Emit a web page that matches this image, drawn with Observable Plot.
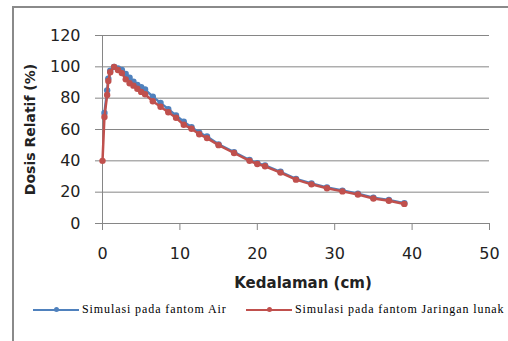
<!DOCTYPE html>
<html>
<head>
<meta charset="utf-8">
<script src="https://cdn.jsdelivr.net/npm/d3@7"></script>
<script src="https://cdn.jsdelivr.net/npm/@observablehq/plot@0.6"></script>
<style>
  html, body { margin: 0; padding: 0; background: #fff; }
  #wrap { position: relative; width: 508px; height: 341px; overflow: hidden; }
  #frame { position: absolute; left: 12px; top: 6px; width: 600px; height: 400px;
           border-left: 2px solid #8a8a8a; border-top: 2px solid #8a8a8a; pointer-events: none; }
  #chart { position: absolute; left: 0; top: 0; }
  .leg { position: absolute; top: 302px; height: 16px; font-family: "Liberation Serif", serif;
         font-size: 12px; letter-spacing: 0.9px; color: #000; white-space: nowrap; }
  .leg .sw { position: absolute; top: 7px; height: 2px; width: 46px; }
  .leg .mk { position: absolute; top: 5px; width: 5px; height: 5px; border-radius: 50%; left: 21px; }
  .leg .tx { position: absolute; left: 49px; top: 0px; }
</style>
</head>
<body>
<div id="wrap">
  <div id="chart"></div>
  <div id="frame"></div>
  <div class="leg" style="left:33px;">
    <div class="sw" style="background:#4F81BD"></div>
    <div class="mk" style="background:#4F81BD"></div>
    <div class="tx">Simulasi pada fantom Air</div>
  </div>
  <div class="leg" style="left:246px;">
    <div class="sw" style="background:#C0504D"></div>
    <div class="mk" style="background:#C0504D"></div>
    <div class="tx">Simulasi pada fantom Jaringan lunak</div>
  </div>
</div>
<script>
const depthAir = [0.25, 0.6, 0.75, 1, 1.5, 2, 2.5, 3, 3.5, 4, 4.5, 5, 5.5, 6.5, 7.5, 8.5, 9.5, 10.5, 11.5, 12.5, 13.5, 15, 17, 19, 20, 21, 23, 25, 27, 29, 31, 33, 35, 37, 39];
const doseAir = [70.5, 85, 92.5, 97.5, 100, 99, 98, 95.5, 93, 90.5, 88.5, 87, 85.5, 81, 77, 73, 69, 65, 61.5, 58, 55.5, 50.5, 45.5, 40.5, 38.5, 37, 33, 28.5, 25.5, 23, 21, 19, 16.5, 15, 13];
const depthJaringan = [0, 0.25, 0.6, 0.75, 1, 1.5, 2, 2.5, 3, 3.5, 4, 4.5, 5, 5.5, 6.5, 7.5, 8.5, 9.5, 10.5, 11.5, 12.5, 13.5, 15, 17, 19, 20, 21, 23, 25, 27, 29, 31, 33, 35, 37, 39];
const doseJaringan = [40, 68, 82, 91, 96.5, 100, 98, 96, 92, 89.5, 88, 86, 84, 82.5, 78, 74.5, 71, 67.5, 63, 60.5, 57, 54.5, 50, 45, 40, 38, 36.5, 32.5, 28, 25, 22.5, 20.5, 18.5, 16, 14.5, 12.5];
const xTicks = [0, 10, 20, 30, 40, 50];
const yTicks = [0, 20, 40, 60, 80, 100, 120];
const xTitle = "Kedalaman (cm)";
const yTitle = "Dosis Relatif (%)";
const seriesNames = ["Simulasi pada fantom Air", "Simulasi pada fantom Jaringan lunak"];
const colors = ["#4F81BD", "#C0504D"];

const air = depthAir.map((d, i) => ({depth: d, dose: doseAir[i]}));
const jar = depthJaringan.map((d, i) => ({depth: d, dose: doseJaringan[i]}));

const gray = "#868686";
const chart = Plot.plot({
  width: 508,
  height: 341,
  marginLeft: 102,
  marginRight: 19,
  marginTop: 35,
  marginBottom: 118,
  style: {fontFamily: "DejaVu Sans", background: "transparent", overflow: "visible"},
  x: {domain: [0, 50]},
  y: {domain: [0, 120]},
  marks: [
    Plot.gridY(yTicks, {stroke: gray, strokeOpacity: 1, strokeWidth: 1}),
    Plot.axisY(yTicks, {tickSize: 7, tickPadding: 15, stroke: gray, fontSize: 16, fill: "#222", label: null}),
    Plot.axisX(xTicks, {tickSize: 7, tickPadding: 17, stroke: gray, fontSize: 16, fill: "#222", label: null}),
    Plot.ruleX([0], {stroke: gray, strokeWidth: 1}),
    Plot.ruleY([0], {stroke: gray, strokeWidth: 1}),
    Plot.line(air, {x: "depth", y: "dose", stroke: colors[0], strokeWidth: 2.5}),
    Plot.dot(air, {x: "depth", y: "dose", fill: colors[0], r: 3.2}),
    Plot.line(jar, {x: "depth", y: "dose", stroke: colors[1], strokeWidth: 2.5}),
    Plot.dot(jar, {x: "depth", y: "dose", fill: colors[1], r: 3.2}),
    Plot.text([yTitle], {frameAnchor: "left", dx: -72, rotate: -90, textAnchor: "middle", lineAnchor: "middle", fontSize: 14, fontWeight: "bold", fill: "#222"}),
    Plot.text([xTitle], {frameAnchor: "bottom", dx: 7, dy: 60, textAnchor: "middle", lineAnchor: "middle", fontSize: 15, fontWeight: "bold", fill: "#222"})
  ]
});
document.getElementById("chart").appendChild(chart);
</script>
</body>
</html>
